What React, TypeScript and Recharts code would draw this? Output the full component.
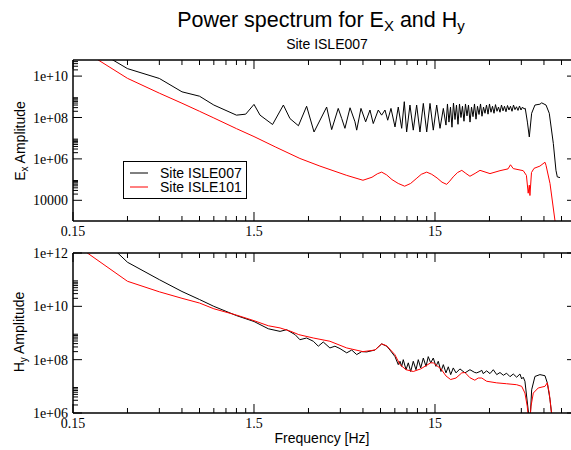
import React from "react";
import { LineChart, Line, XAxis, YAxis, Legend } from "recharts";

const SANS = "'Liberation Sans', Arial, Helvetica, sans-serif";
const SERIF = "'Liberation Serif', 'Times New Roman', serif";

const SITE_A = "Site ISLE007";
const SITE_B = "Site ISLE101";
const BLACK = "#000000";
const RED = "#ff0000";

// frequency axis (log), shared by both panels
const X_DOMAIN = [0.15, 90.2];
const X_TICKS = [
  0.15, 0.3, 0.45, 0.6, 0.75, 0.9, 1.05, 1.2, 1.35,
  1.5, 3, 4.5, 6, 7.5, 9, 10.5, 12, 13.5,
  15, 30, 45, 60, 75,
];
const X_MAJOR = [0.15, 1.5, 15];
const X_LABELS = ["0.15", "1.5", "15"];

// Ex panel axis
const EX_DOMAIN = [1e3, 6e10];
const EX_TICKS = [
  1e4, 2e4, 3e4, 4e4, 5e4, 6e4, 7e4, 8e4, 9e4,
  1e6, 2e6, 3e6, 4e6, 5e6, 6e6, 7e6, 8e6, 9e6,
  1e8, 2e8, 3e8, 4e8, 5e8, 6e8, 7e8, 8e8, 9e8,
  1e10, 2e10, 3e10, 4e10, 5e10,
];
const EX_MAJOR = [1e4, 1e6, 1e8, 1e10];
const EX_LABELS = ["10000", "1e+06", "1e+08", "1e+10"];

// Hy panel axis
const HY_DOMAIN = [1e6, 1e12];
const HY_TICKS = [
  1e6, 2e6, 3e6, 4e6, 5e6, 6e6, 7e6, 8e6, 9e6,
  1e8, 2e8, 3e8, 4e8, 5e8, 6e8, 7e8, 8e8, 9e8,
  1e10, 2e10, 3e10, 4e10, 5e10, 6e10, 7e10, 8e10, 9e10,
  1e12,
];
const HY_MAJOR = [1e6, 1e8, 1e10, 1e12];
const HY_LABELS = ["1e+06", "1e+08", "1e+10", "1e+12"];

// Ex, site ISLE007
const EX007_F = [
  0.15, 0.3, 0.45, 0.6, 0.75, 0.9, 1.2, 1.35, 1.5, 1.62,
  1.9, 2.18, 2.37, 2.64, 2.93, 3.22, 3.78, 4.03, 4.38, 4.58,
  4.77, 5.09, 5.42, 5.54, 5.85, 6.21, 6.56, 6.84, 7.29, 7.61,
  7.94, 8.22, 8.57, 9.02, 9.4, 9.82, 10.15, 10.46, 10.91, 11.38,
  11.88, 12.39, 12.93, 13.5, 14.08, 14.68, 15.33, 15.99, 16.68,
  17.25, 17.58, 17.92, 18.27, 18.62, 18.98, 19.35, 19.72, 20.1, 20.49,
  20.88, 21.28, 21.69, 22.11, 22.54, 22.97, 23.42, 23.87, 24.33, 24.8,
  25.28, 25.76, 26.26, 26.77, 27.28, 27.81, 28.34, 28.89, 29.45, 30.01,
  30.59, 31.18, 31.78, 32.39, 33.02, 33.65, 34.3, 34.96, 35.64, 36.32,
  37.02, 37.74, 38.46, 39.2, 39.96, 40.73, 41.51, 42.31, 43.13, 43.96,
  44.81, 45.67, 46.55,
  47.3, 48.6, 49.8, 51.3, 53.5, 57.0, 58.3, 61.6, 64.2,
  67.6, 69.9, 71.1, 73.6,
];
const EX007_V = [
  8.3e11, 2.3e10, 7.7e9, 1.74e9, 1.07e9, 4.0e8, 1.3e8, 1.45e8, 4.3e8, 1.3e8,
  4.6e7, 4.0e8, 8.9e7, 4.0e7, 3.5e8, 2.0e7, 3.2e8, 2.6e7, 2.75e8, 8.9e7,
  3.0e7, 2.95e8, 6.2e7, 2.45e7, 2.75e8, 6.2e7, 2.3e8, 5.1e7, 2.3e8, 1.3e8,
  2.3e8, 7.4e7, 2.75e8, 3.5e7, 3.2e8, 3.0e7, 5.8e8, 2.0e7, 4.0e8, 2.45e7,
  4.0e8, 2.0e7, 4.8e8, 2.0e7, 4.8e8, 2.45e7, 4.0e8, 3.0e7, 2.75e8,
  4.3e7, 4.5e8, 6.0e7, 3.2e8, 3.4e7, 5.0e8, 8.0e7, 4.0e8, 4.7e7, 4.5e8,
  1.0e8, 3.5e8, 6.6e7, 4.5e8, 1.2e8, 4.0e8, 6.0e7, 3.2e8, 1.1e8, 4.5e8,
  8.3e7, 3.5e8, 1.4e8, 4.5e8, 1.15e8, 3.2e8, 1.6e8, 4.0e8, 1.45e8, 4.5e8,
  1.8e8, 3.5e8, 1.6e8, 4.2e8, 2.0e8, 3.2e8, 1.8e8, 4.0e8, 2.1e8, 3.5e8,
  1.9e8, 3.8e8, 2.3e8, 3.5e8, 2.0e8, 4.0e8, 2.4e8, 3.3e8, 2.2e8, 3.6e8,
  2.3e8, 3.2e8, 2.6e8,
  2.75e8, 6.0e7, 1.15e7, 1.6e8, 4.0e8, 4.4e8, 5.1e8, 4.0e8, 1.6e8,
  5.5e6, 2.8e5, 1.35e5, 1.25e5,
];

// Ex, site ISLE101
const EX101_F = [
  0.15, 0.3, 0.45, 0.6, 0.75, 0.9, 1.2, 1.5, 1.98, 2.69,
  3.47, 4.88, 6.0, 6.73, 7.2, 7.61, 8.1, 8.68, 9.4, 10.2,
  11.0, 11.8, 12.6, 13.5, 14.4, 15.4, 16.4, 17.4, 18.1, 18.9,
  20.0, 21.1, 22.2, 23.4, 25.0, 26.6, 30.2, 34.3, 38.0, 39.2,
  40.6, 46.1, 48.0, 49.1, 49.8, 50.2, 51.2, 52.9, 57.0, 60.8,
  61.6, 64.8, 69.0, 73.6,
];
const EX101_V = [
  3.5e11, 7.8e9, 1.5e9, 4.9e8, 2.0e8, 9.5e7, 2.9e7, 1.2e7, 3.7e6, 1.05e6,
  4.5e5, 1.6e5, 9.3e4, 1.3e5, 1.9e5, 2.3e5, 1.7e5, 1.0e5, 6.5e4, 4.8e4,
  6.5e4, 1.1e5, 1.8e5, 2.3e5, 1.8e5, 1.2e5, 7.5e4, 5.9e4, 8.5e4, 1.35e5,
  2.2e5, 2.8e5, 2.0e5, 1.45e5, 2.0e5, 2.8e5, 1.95e5, 2.7e5, 3.3e5, 5.2e5,
  3.4e5, 2.7e5, 1.6e5, 2.2e4, 5.4e4, 1.7e4, 2.2e5, 3.5e5, 4.5e5, 6.9e5,
  4.9e5, 6.5e4, 1.07e3, 1.3e1,
];

// Hy, site ISLE007
const HY007_F = [
  0.15, 0.3, 0.45, 0.6, 0.75, 0.9, 1.2, 1.5, 1.8, 2.09,
  2.27, 2.53, 2.69, 2.93, 3.19, 3.4, 3.62, 3.94, 4.2, 4.48,
  4.88, 5.2, 5.54, 5.9, 6.29, 6.99, 7.61, 8.12, 8.46, 9.02,
  9.4, 9.61, 9.82, 10.02, 10.38, 10.68, 11.01, 11.38, 11.78, 12.13,
  12.51, 12.93, 13.38, 13.77, 14.2, 14.68, 15.19, 15.64, 16.19, 16.68,
  17.25, 17.77, 18.32, 18.93, 19.6, 20.6, 21.97, 23.4, 24.9, 25.5,
  26.6, 27.2, 27.7, 28.95, 30.2, 31.5, 32.9, 34.3, 35.8, 37.3,
  38.95, 40.6, 42.4, 44.2, 45.2, 46.1, 47.1, 49.1, 50.2, 51.3,
  53.5, 57.0, 60.8, 62.6, 64.8, 66.2, 68.0,
];
const HY007_V = [
  4e13, 4.5e11, 1.0e11, 3.6e10, 1.8e10, 1.0e10, 4.5e9, 2.7e9, 1.44e9, 1.15e9,
  1.33e9, 8.7e8, 5.6e8, 6.5e8, 4.9e8, 3.2e8, 4.6e8, 2.75e8, 3.2e8, 2.6e8,
  1.8e8, 2.3e8, 1.55e8, 2.0e8, 1.95e8, 2.3e8, 3.9e8, 3.2e8, 2.3e8, 1.3e8,
  6.5e7, 8.7e7, 5.6e7, 1.0e8, 4.2e7, 7.6e7, 3.6e7, 8.7e7, 4.2e7, 1.0e8,
  4.9e7, 1.15e8, 5.6e7, 1.3e8, 7.6e7, 1.15e8, 5.6e7, 8.7e7, 3.6e7, 6.5e7,
  3.2e7, 5.4e7, 2.75e7, 4.9e7, 3.2e7, 4.5e7, 3.2e7, 4.2e7, 3.3e7, 3.2e7,
  3.6e7, 4.0e7, 3.0e7, 3.8e7, 3.0e7, 4.2e7, 2.75e7, 3.3e7, 2.6e7, 3.1e7,
  2.3e7, 2.9e7, 2.2e7, 2.9e7, 1.9e7, 2.2e7, 1.55e7, 1.3e6, 4e5, 7.4e6,
  2.35e7, 2.75e7, 2.5e7, 1.35e7, 3.2e6, 8.7e5, 1e5,
];

// Hy, site ISLE101
const HY101_F = [
  0.15, 0.3, 0.45, 0.6, 0.75, 0.9, 1.2, 1.5, 1.8, 2.09,
  2.4, 2.65, 3.19, 3.94, 4.88, 6.0, 6.99, 7.61, 8.12, 9.0,
  9.61, 10.38, 11.38, 12.5, 14.2, 14.68, 16.19, 17.25, 18.3, 19.6,
  21.1, 21.97, 23.4, 24.9, 26.0, 27.2, 28.95, 32.9, 37.3, 42.4,
  45.2, 47.1, 48.5, 49.8, 50.9, 52.4, 55.8, 60.8, 62.6, 64.2,
  66.2, 68.0,
];
const HY101_V = [
  2.4e12, 8.7e10, 3.5e10, 2.0e10, 1.33e10, 8.1e9, 4.7e9, 2.9e9, 1.87e9, 1.55e9,
  1.15e9, 8.7e8, 6.5e8, 4.9e8, 2.75e8, 2.0e8, 2.3e8, 3.9e8, 3.3e8, 1.55e8,
  6.5e7, 4.2e7, 3.6e7, 4.5e7, 7.6e7, 7.6e7, 4.5e7, 2.45e7, 1.8e7, 2.05e7,
  3.2e7, 3.3e7, 2.1e7, 1.7e7, 2.05e7, 2.05e7, 1.55e7, 1.35e7, 1.25e7, 1.15e7,
  1.0e7, 5.6e6, 1.8e6, 3e5, 1.8e6, 5.6e6, 8.7e6, 1.0e7, 1.35e7, 5.6e6,
  8.7e5, 1e5,
];

const toRows = (f: number[], v: number[]) => f.map((x, i) => ({ f: x, v: v[i] }));

const ex007 = toRows(EX007_F, EX007_V);
const ex101 = toRows(EX101_F, EX101_V);
const hy007 = toRows(HY007_F, HY007_V);
const hy101 = toRows(HY101_F, HY101_V);

type TickProps = { x?: number; y?: number; payload?: { value: number } };

function makeXTick(side: "top" | "bottom") {
  return function XTick({ x = 0, y = 0, payload }: TickProps) {
    const i = X_MAJOR.indexOf(payload?.value ?? -1);
    const len = i >= 0 ? 9 : 5;
    const dir = side === "bottom" ? -1 : 1;
    return (
      <g>
        <line x1={x} x2={x} y1={y} y2={y + dir * len} stroke="#000" strokeWidth={1} />
        {side === "bottom" && i >= 0 && (
          <text x={x} y={y + 15} textAnchor="middle" fontFamily={SERIF} fontSize={14} fill="#000">
            {X_LABELS[i]}
          </text>
        )}
      </g>
    );
  };
}

function makeYTick(side: "left" | "right", major: number[], labels: string[]) {
  return function YTick({ x = 0, y = 0, payload }: TickProps) {
    const i = major.indexOf(payload?.value ?? -1);
    const len = i >= 0 ? 9 : 5;
    const dir = side === "left" ? 1 : -1;
    return (
      <g>
        <line x1={x} x2={x + dir * len} y1={y} y2={y} stroke="#000" strokeWidth={1} />
        {side === "left" && i >= 0 && (
          <text x={x - 5} y={y + 5} textAnchor="end" fontFamily={SERIF} fontSize={14} fill="#000">
            {labels[i]}
          </text>
        )}
      </g>
    );
  };
}

const xBottomTick = makeXTick("bottom");
const xTopTick = makeXTick("top");
const exLeftTick = makeYTick("left", EX_MAJOR, EX_LABELS);
const exRightTick = makeYTick("right", EX_MAJOR, EX_LABELS);
const hyLeftTick = makeYTick("left", HY_MAJOR, HY_LABELS);
const hyRightTick = makeYTick("right", HY_MAJOR, HY_LABELS);

const frame = { stroke: "#000", strokeWidth: 1.5 };

function LegendBox() {
  return (
    <svg width={124} height={38} style={{ display: "block" }}>
      <rect x={0.5} y={0.5} width={123} height={37} fill="#fff" stroke="#000" strokeWidth={1} />
      <line x1={7} x2={25} y1={12} y2={12} stroke={BLACK} strokeWidth={1} />
      <text x={37} y={17} fontFamily={SANS} fontSize={14} fill="#000">{SITE_A}</text>
      <line x1={7} x2={25} y1={26} y2={26} stroke={RED} strokeWidth={1} />
      <text x={37} y={31} fontFamily={SANS} fontSize={14} fill="#000">{SITE_B}</text>
    </svg>
  );
}

function Panel({
  height,
  top,
  bottom,
  domain,
  ticks,
  leftTick,
  rightTick,
  a,
  b,
  legend,
}: {
  height: number;
  top: number;
  bottom: number;
  domain: number[];
  ticks: number[];
  leftTick: (p: TickProps) => React.ReactElement;
  rightTick: (p: TickProps) => React.ReactElement;
  a: { f: number; v: number }[];
  b: { f: number; v: number }[];
  legend?: boolean;
}) {
  // top axis is 1px tall and right axis 1px wide so that both get drawn;
  // the right edge of the frame falls outside the 571px picture
  return (
    <LineChart width={580} height={height} margin={{ top: top - 1, right: 3, bottom, left: 0 }}>
      <XAxis
        xAxisId="b"
        dataKey="f"
        type="number"
        scale="log"
        domain={X_DOMAIN}
        allowDataOverflow
        ticks={X_TICKS}
        interval={0}
        tick={xBottomTick}
        tickLine={false}
        tickSize={0}
        tickMargin={0}
        height={20}
        axisLine={frame}
      />
      <XAxis
        xAxisId="t"
        orientation="top"
        dataKey="f"
        type="number"
        scale="log"
        domain={X_DOMAIN}
        allowDataOverflow
        ticks={X_TICKS}
        interval={0}
        tick={xTopTick}
        tickLine={false}
        tickSize={0}
        tickMargin={0}
        height={1}
        axisLine={frame}
      />
      <YAxis
        yAxisId="l"
        type="number"
        scale="log"
        domain={domain}
        allowDataOverflow
        ticks={ticks}
        interval={0}
        tick={leftTick}
        tickLine={false}
        tickSize={0}
        tickMargin={0}
        width={73}
        axisLine={frame}
      />
      <YAxis
        yAxisId="r"
        orientation="right"
        type="number"
        scale="log"
        domain={domain}
        allowDataOverflow
        ticks={ticks}
        interval={0}
        tick={rightTick}
        tickLine={false}
        tickSize={0}
        tickMargin={0}
        width={1}
        axisLine={frame}
      />
      <Line xAxisId="b" yAxisId="l" data={a} dataKey="v" stroke={BLACK} strokeWidth={1} dot={false} isAnimationActive={false} />
      <Line xAxisId="b" yAxisId="l" data={b} dataKey="v" stroke={RED} strokeWidth={1} dot={false} isAnimationActive={false} />
      <Line xAxisId="t" yAxisId="r" data={a} dataKey="v" stroke="none" dot={false} legendType="none" isAnimationActive={false} />
      {legend && (
        <Legend
          layout="vertical"
          align="center"
          verticalAlign="middle"
          wrapperStyle={{ left: 123, top: 161, width: 124, height: 38 }}
          content={() => <LegendBox />}
        />
      )}
    </LineChart>
  );
}

export default function App() {
  return (
    <div
      style={{
        position: "absolute",
        left: 0,
        top: 0,
        width: 571,
        height: 450,
        overflow: "hidden",
        background: "#fff",
      }}
    >
      <div style={{ position: "absolute", left: 0, top: 0 }}>
        <Panel
          height={250}
          top={60}
          bottom={9}
          domain={EX_DOMAIN}
          ticks={EX_TICKS}
          leftTick={exLeftTick}
          rightTick={exRightTick}
          a={ex007}
          b={ex101}
          legend
        />
      </div>
      <div style={{ position: "absolute", left: 0, top: 230 }}>
        <Panel
          height={220}
          top={23}
          bottom={17}
          domain={HY_DOMAIN}
          ticks={HY_TICKS}
          leftTick={hyLeftTick}
          rightTick={hyRightTick}
          a={hy007}
          b={hy101}
        />
      </div>
      <svg
        width={571}
        height={450}
        style={{ position: "absolute", left: 0, top: 0, pointerEvents: "none" }}
      >
        <text x={321} y={27} textAnchor="middle" fontFamily={SANS} fontSize={21.5} fill="#000">
          Power spectrum for E<tspan dy={4} fontSize={15}>X</tspan>
          <tspan dy={-4}> and H</tspan>
          <tspan dy={4} fontSize={15}>y</tspan>
        </text>
        <text x={327} y={49} textAnchor="middle" fontFamily={SANS} fontSize={14} fill="#000">
          {SITE_A}
        </text>
        <text
          transform="translate(25,141) rotate(-90)"
          textAnchor="middle"
          fontFamily={SANS}
          fontSize={14}
          fill="#000"
        >
          E<tspan dy={3} fontSize={10}>x</tspan>
          <tspan dy={-3}> Amplitude</tspan>
        </text>
        <text
          transform="translate(24,332) rotate(-90)"
          textAnchor="middle"
          fontFamily={SANS}
          fontSize={14}
          fill="#000"
        >
          H<tspan dy={3} fontSize={10}>y</tspan>
          <tspan dy={-3}> Amplitude</tspan>
        </text>
        <text x={322} y={443} textAnchor="middle" fontFamily={SANS} fontSize={14} fill="#000">
          Frequency [Hz]
        </text>
      </svg>
    </div>
  );
}
